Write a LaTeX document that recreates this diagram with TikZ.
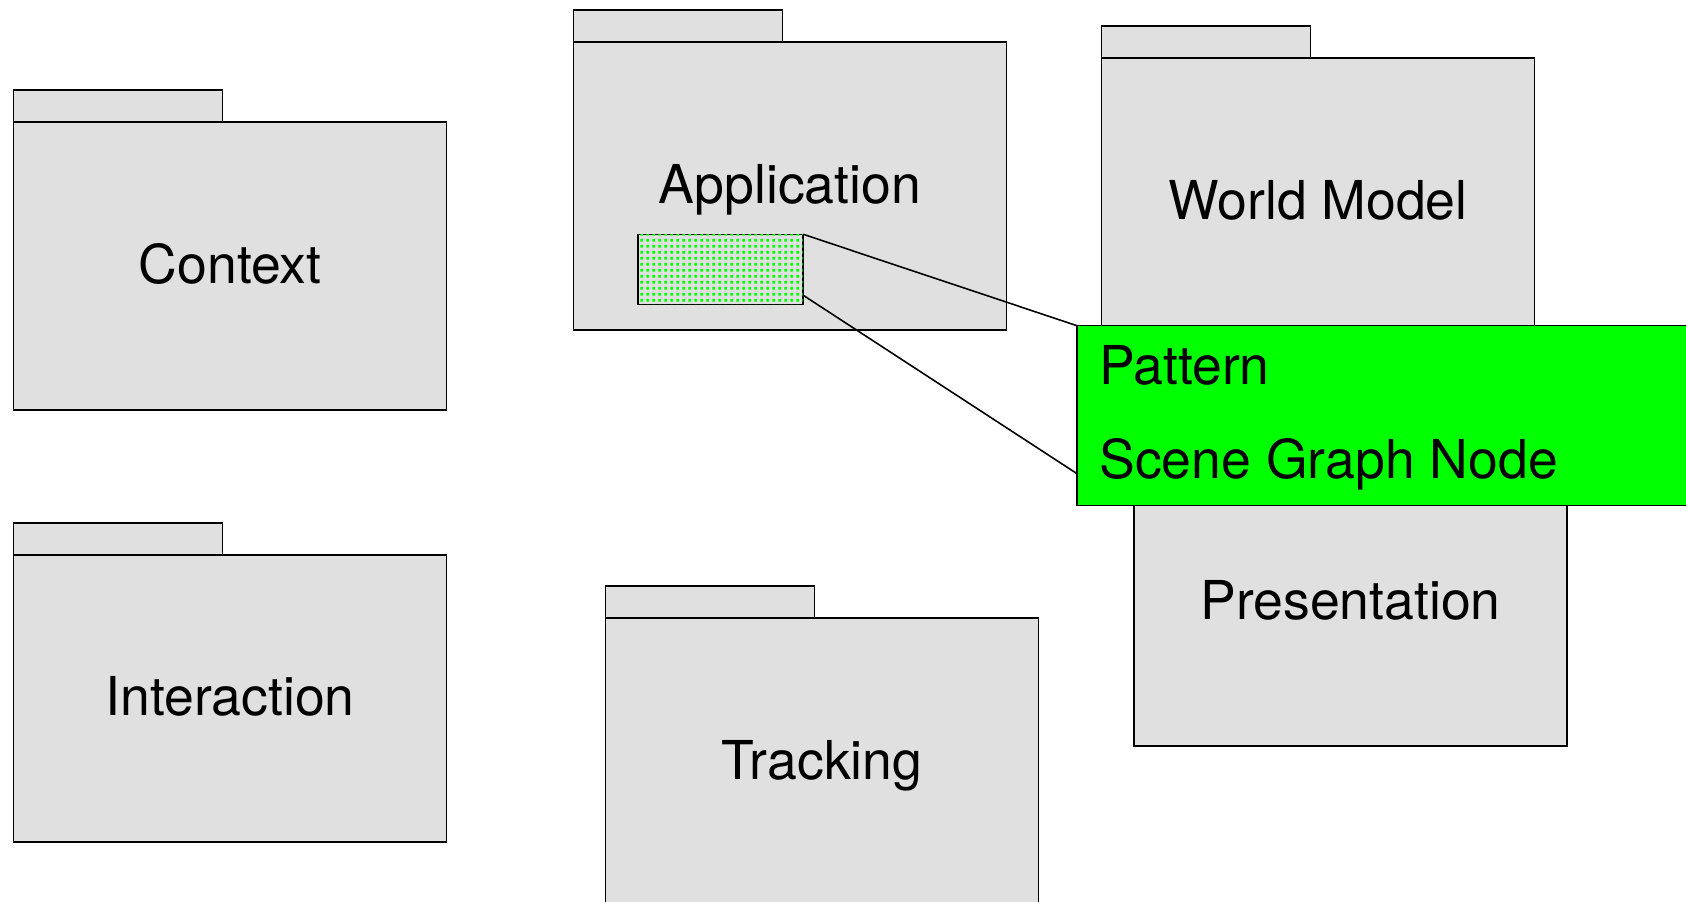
\documentclass[tikz,border=0pt]{standalone}
\usepackage{fontspec}
\setmainfont{TeX Gyre Heros}
\usepackage{tikz}
\usepackage{xcolor}
\usetikzlibrary{
    calc,
    positioning,
    patterns.meta
}
\definecolor{fldgray}{HTML}{E0E0E0}
\definecolor{brtgreen}{HTML}{00FF00}
\tikzdeclarepattern{
    name=gdots,
    type=uncolored,
    bounding box={(0pt,0pt) and (3.25pt,3.25pt)},
    tile size={(3.25pt,3.25pt)},
    code={\pgfpathrectangle{\pgfqpoint{0.8pt}{0.8pt}}{\pgfqpoint{1.6pt}{1.6pt}}\pgfusepath{fill}}
}
\tikzset{fldr/.style={draw=black, fill=fldgray, line width=0.9pt, inner sep=0pt, outer sep=0pt,
        minimum width=8.66cm, minimum height=5.75cm, text height=22pt, text depth=2.4pt,
        font=\fontsize{30.5}{36}\selectfont}}
\tikzset{fldrtab/.style={draw=black, fill=fldgray, line width=0.9pt, inner sep=0pt, outer sep=0pt,
        minimum width=4.18cm, minimum height=0.64cm, anchor=south west}}
\tikzset{ptbox/.style={draw=black, fill=fldgray, line width=0.9pt, inner sep=0pt, outer sep=0pt,
        minimum width=3.31cm, minimum height=1.4cm,
        postaction={pattern={gdots}, pattern color=brtgreen}}}
\tikzset{grnbox/.style={draw=black, fill=brtgreen, line width=0.9pt, inner sep=0pt, outer sep=0pt,
        minimum width=13cm, minimum height=3.6cm, anchor=north west}}
\tikzset{grntxt/.style={inner sep=0pt, anchor=base west, font=\fontsize{30.5}{36}\selectfont}}

\begin{document}
\begin{tikzpicture}[x=0.02cm, y=-0.02cm]
                        \path[use as bounding box] (0, 0) rectangle (1686, 902);
                        \clip (0, 0) rectangle (1686, 902);
                        % folders
                        \node[fldr] (ctx) at (230, 266) {Context};
                        \node[fldrtab] (ctxtab) at (ctx.north west) {};
                        \node[fldr] (inter) at (230, 698.5) {Interaction};
                        \node[fldrtab] (intertab) at (inter.north west) {};
                        \node[fldr] (app) at (790, 186) {Application};
                        \node[fldrtab] (apptab) at (app.north west) {};
                        \node[fldr] (track) at (822, 762) {Tracking};
                        \node[fldrtab] (tracktab) at (track.north west) {};
                        \node[fldr] (world) at (1318, 202) {World Model};
                        \node[fldrtab] (worldtab) at (world.north west) {};
                        \node[fldr] (pres) at (1350.5, 602) {Presentation};
                        \node[fldrtab] (prestab) at (pres.north west) {};
                        % pattern and its zoom
                        \node[ptbox] (pat) at (720.5, 269.3) {};
                        \node[grnbox] (pg) at (1077, 325.7) {};
                        \node[grntxt] (pgname) at (1099, 384) {Pattern};
                        \node[grntxt] (pgkind) at (1099, 478.3) {Scene Graph Node};
                        \draw[line width=0.9pt]
                        (pat.north east) -- (pg.north west)
                        ([yshift=0.18cm]pat.south east) -- ([yshift=0.64cm]pg.south west);
                    \end{tikzpicture}
\end{document}
